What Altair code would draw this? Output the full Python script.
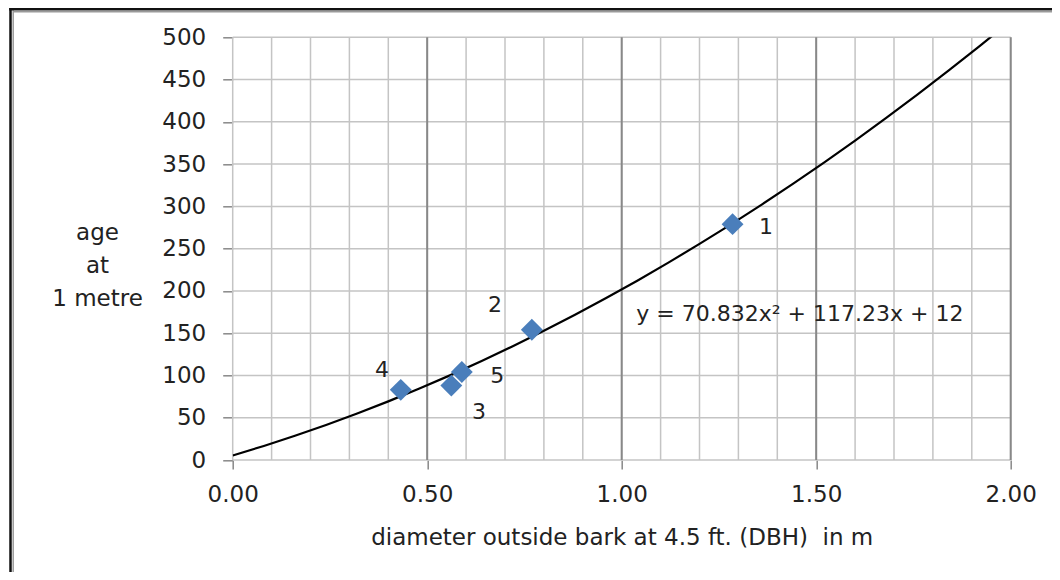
import altair as alt
import pandas as pd

# Data
tree_id = ["1", "2", "3", "4", "5"]
dbh_m = [1.285, 0.769, 0.562, 0.432, 0.589]
age_1m = [279, 154, 88, 83, 104]
# data-label anchor positions (data units)
label_x = [1.371, 0.674, 0.633, 0.384, 0.680]
label_y = [276, 183, 57, 107, 99]

x_ticks = [0.0, 0.5, 1.0, 1.5, 2.0]
x_minor = [round(i / 10, 1) for i in range(21)]
y_ticks = [0, 50, 100, 150, 200, 250, 300, 350, 400, 450, 500]
equation = "y = 70.832x\u00b2 + 117.23x + 12"
x_title = "diameter outside bark at 4.5 ft. (DBH)\u00a0 in m"
y_title = ["age", "at", "1 metre"]

FONT = "DejaVu Sans"
TXT = "#222222"
W, H = 778, 422.7

pts = pd.DataFrame({"x": dbh_m, "y": age_1m, "id": tree_id, "lx": label_x, "ly": label_y})

xs = alt.Scale(domain=[0, 2], nice=False, zero=False)
ys = alt.Scale(domain=[0, 500], nice=False)

minor_v = alt.Chart(pd.DataFrame({"x": x_minor})).mark_rule(color="#c4c4c4", strokeWidth=1.5).encode(
    x=alt.X("x:Q", scale=xs)
)
major_v = alt.Chart(pd.DataFrame({"x": x_ticks[1:]})).mark_rule(color="#888888", strokeWidth=2).encode(
    x=alt.X("x:Q", scale=xs)
)
horiz = alt.Chart(pd.DataFrame({"y": y_ticks})).mark_rule(color="#c4c4c4", strokeWidth=1.5).encode(
    y=alt.Y("y:Q", scale=ys)
)

trend = alt.Chart(pts).transform_regression(
    "x", "y", method="poly", order=2, extent=[0, 2]
).mark_line(color="black", strokeWidth=2.2, clip=True).encode(
    x=alt.X("x:Q", scale=xs), y=alt.Y("y:Q", scale=ys)
)

points = alt.Chart(pts).mark_point(shape="diamond", filled=True, size=480, color="#4a7ebb", opacity=1).encode(
    x=alt.X("x:Q", scale=xs,
            axis=alt.Axis(values=x_ticks, format=".2f", title=x_title, labelFlush=False,
                          grid=False, domain=False, tickColor="#888888", tickSize=9, tickWidth=1.5,
                          labelFontSize=23, labelFont=FONT, labelColor=TXT, labelPadding=14,
                          titleFontSize=23, titleFont=FONT, titleColor=TXT, titleFontWeight="normal",
                          titlePadding=20)),
    y=alt.Y("y:Q", scale=ys,
            axis=alt.Axis(values=y_ticks, grid=False, domain=False, tickColor="#888888", tickSize=10,
                          tickWidth=1.5, labelFontSize=23, labelFont=FONT, labelColor=TXT, labelPadding=17,
                          title=y_title, titleAngle=0, titleAlign="center",
                          titleBaseline="middle", titleX=-135.7, titleY=232 - 37.3, titleLineHeight=33,
                          titleFontSize=23, titleFont=FONT, titleColor=TXT, titleFontWeight="normal")),
)

labels = alt.Chart(pts).mark_text(font=FONT, fontSize=22, color=TXT).encode(
    x=alt.X("lx:Q", scale=xs), y=alt.Y("ly:Q", scale=ys), text="id:N"
)

eq = alt.Chart(pd.DataFrame({"x": [1.458], "y": [173], "t": [equation]})).mark_text(
    font=FONT, fontSize=22, color=TXT
).encode(x=alt.X("x:Q", scale=xs), y=alt.Y("y:Q", scale=ys), text="t:N")

dummy = pd.DataFrame({"a": [0]})
frame_left_dark = alt.Chart(dummy).mark_rule(color="#111111", strokeWidth=2.5).encode(
    x=alt.value(-222.2), y=alt.value(-30), y2=alt.value(H + 112)
)
frame_left_gray = alt.Chart(dummy).mark_rule(color="#9a9a9a", strokeWidth=1.5).encode(
    x=alt.value(-219.5), y=alt.value(-27), y2=alt.value(H + 112)
)
frame_top_dark = alt.Chart(dummy).mark_rule(color="#111111", strokeWidth=2.5).encode(
    y=alt.value(-28.0), x=alt.value(-223.5), x2=alt.value(W + 42)
)
frame_top_gray = alt.Chart(dummy).mark_rule(color="#9a9a9a", strokeWidth=1.5).encode(
    y=alt.value(-25.5), x=alt.value(-219.5), x2=alt.value(W + 42)
)

chart = alt.layer(
    minor_v, horiz, major_v, trend, points, labels, eq,
    frame_left_dark, frame_left_gray, frame_top_dark, frame_top_gray
).properties(
    width=W, height=H,
    autosize=alt.AutoSizeParams(type="none"),
    padding={"left": 224.7, "top": 29.3, "right": 41.3, "bottom": 112},
    background="white",
).configure_view(stroke=None)

chart.save("out.html", embed_options={"renderer": "svg", "actions": False})
